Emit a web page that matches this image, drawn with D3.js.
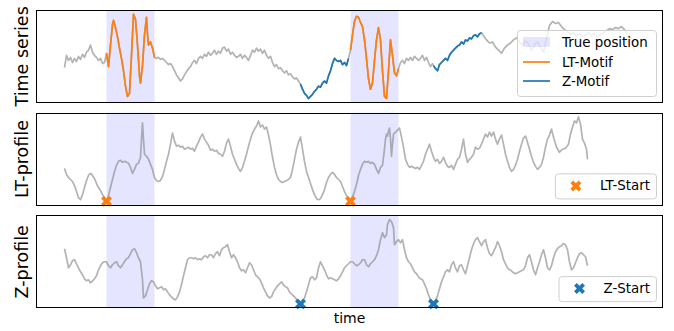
<!DOCTYPE html>
<html>
<head>
<meta charset="utf-8">
<script src="https://cdn.jsdelivr.net/npm/d3@7"></script>
<style>
  body { margin: 0; background: #fff; }
  text { font-family: "DejaVu Sans", sans-serif; }
</style>
</head>
<body>
<svg id="chart" width="674" height="331"></svg>
<script>
// time index of each reading, and the value
var series = [[0,33],[2,45],[4,40],[6,43],[8,38],[10,42],[12,39],[14,44],[16,41],[18,46],[20,43],[22,48],[24,50],[26,55],[28,48],[30,45],[32,43],[34,40],[36,42],[38,37],[40,38],
  [42,47],[44,34],[46,55],[48,75],[49,79],[51,72],[53,63],[55,52],[57,42],[59,30],[61,15],[63,5],[65,8],[67,45],[69,85],[71,80],[73,55],[75,25],[76,18],[78,35],[80,65],[82,82],[83,65],[84,55],[86,58],[88,52],[90,43],
  [92,42],[94,43],[96,41],[98,42],[100,40],[102,38],[104,36],[106,37],[108,34],[110,30],[112,26],[114,23],[116,20],[118,22],[120,26],[122,29],[124,32],[126,34],[128,38],[130,40],[132,37],[134,42],[136,44],[138,42],[140,46],[142,44],[144,48],[146,45],[148,47],[150,50],[152,46],[154,49],[156,47],[158,52],[160,53],[162,49],[164,51],[166,46],[168,48],[170,45],[172,43],[174,44],[176,46],[178,42],[180,45],[182,43],[184,40],[186,45],[188,50],[190,48],[192,52],[194,49],[196,51],[198,47],[200,50],[202,45],[204,42],[206,44],[208,38],[210,34],[212,36],[214,32],[216,33],[218,30],[220,28],[222,30],[224,26],[226,27],[228,24],[230,22],[232,23],[234,20],
  [236,17],[238,12],[240,8],[242,6],[244,3],[246,5],[248,7],[250,10],[252,12],[254,15],[256,14],[258,18],[260,20],[262,18],[264,25],[266,30],[268,37],[270,42],[272,40],[274,39],[276,40],[278,36],[280,38],[282,35],[284,42],
  [286,50],[288,65],[290,78],[292,83],[294,82],[296,77],[298,73],[300,60],[302,42],[304,22],[306,12],[308,18],[310,40],[312,60],[314,72],[316,60],[318,30],[320,5],[322,3],[324,30],[326,60],[328,45],[330,28],[332,25],[334,32],
  [336,38],[338,40],[340,37],[342,42],[344,40],[346,43],[348,40],[350,44],[352,42],[354,40],[356,42],[358,45],[360,40],[362,43],[364,38],[366,34],[368,37],
  [369,35],[371,32],[373,30],[375,36],[377,38],[379,40],[381,42],[383,40],[385,45],[387,48],[389,50],[391,52],[393,54],[395,55],[397,58],[399,56],[401,60],[403,59],[405,62],[407,61],[409,64],[411,65],[413,63],[415,66],[417,67],
  [419,64],[422,60],[425,57],[428,58],[431,53],[434,50],[437,47],[440,52],[443,55],[446,57],[449,60],[452,62],[455,58],[458,55],[461,59],[464,56],[467,50],[470,55],[473,58],[476,53],[479,48],[482,62],[485,74],[488,78],[491,76],[494,77],[497,73],[500,70],[503,68],[506,65],[509,67],[512,64],[515,66],[518,63],[521,65],[524,67],[527,64],[530,66],[533,63],[536,65],[539,67],[542,69],[545,71],[548,70],[551,72],[554,71],[557,73],[560,70],[563,66],[566,62],[568,58],[570,50]];

var ltProfile = [[0,41],[2,35],[4,32],[6,30],[8,28],[10,24],[12,18],[14,12],[16,10],[18,15],[20,22],[22,29],[24,34],[26,36],[28,34],[30,31],[32,26],[34,22],[36,19],[38,15],[40,12],[42,8.5],[44,14],[46,22],[48,30],[50,38],[52,44],[54,48],[56,49],[58,47],[60,48],[62,47],[64,46],[66,42],[68,36],[70,40],[72,45],[74,46],[76,52],[77,70],[78,86],[79,70],[80,55],[82,53],[84,50],[86,45],[88,40],[90,32],[92,29],[94,28],[96,29],[98,33],[100,40],[102,48],[104,55],[106,65],[108,76],[110,68],[112,63],[114,64],[116,62],[118,63],[120,60],[122,61],[124,62],[126,60],[128,61],[130,58],[132,63],[134,67],[136,72],[138,75],[140,70],[142,67],[144,64],[146,59],[148,60],[150,58],[152,59],[154,56],[156,55],[158,53],[160,58],[162,66],[164,70],[166,63],[168,55],[170,50],[172,45],[174,41],[176,38],[178,42],[180,48],[182,55],[184,63],[186,70],[188,76],[190,80],[192,83],[194,88],[196,82],[198,84],[200,80],[202,82],[204,74],[206,64],[208,52],[210,42],[212,35],[214,30],[216,28],[218,27],[220,28],[222,29],[224,30],[226,32],[228,40],[230,50],[232,60],[234,67],[236,72],[238,60],[240,48],[242,38],[244,32],[246,26],[248,20],[250,15],[252,11],[254,10],[256,11],[258,15],[260,20],[262,27],[264,32],[266,35],[268,37],[270,35],[272,32],[274,30],[276,28],[278,23],[280,18],[282,14],[284,11],[286,8.5],[288,13],[290,18],[292,25],[294,34],[296,40],[298,45],[300,48],[302,47],[304,48],[306,46],[308,47],[310,45],[312,40],[314,36],[316,42],[318,44],[320,60],[321,70],[322,75],[323,73],[324,78],[325,81],[326,70],[327,53],[328,65],[329,75],[331,77],[333,79],[335,81],[337,72],[339,62],[341,50],[343,45],[345,42],[347,43],[349,42],[351,41],[353,42],[355,40],[357,44],[359,48],[361,55],[363,60],[365,65],[367,58],[369,52],[371,48],[373,50],[375,46],[377,48],[379,52],[381,47],[383,43],[385,42],[387,44],[389,40],[391,45],[393,50],[395,52],[397,60],[399,70],[401,55],[403,47],[405,50],[407,52],[409,55],[411,62],[413,60],[415,61],[417,65],[419,70],[421,75],[423,72],[425,77],[427,73],[429,77],[431,70],[433,65],[435,70],[437,74],[439,65],[441,55],[443,48],[445,42],[447,38],[449,40],[451,44],[453,50],[455,58],[457,65],[459,71],[461,73],[463,67],[465,60],[467,53],[469,47],[471,43],[473,40],[475,42],[477,45],[479,52],[481,62],[483,70],[485,74],[487,80],[489,72],[492,62],[495,57],[498,60],[501,61],[504,65],[506,75],[508,82],[510,88],[512,86],[514,92],[516,85],[518,70],[520,66],[522,60],[523,50]];

var zProfile = [[0,61],[2,52],[4,42],[6,45],[8,49],[10,50],[12,46],[14,42],[16,38],[18,35],[20,31],[22,29],[24,30],[26,27],[28,29],[30,31],[32,34],[34,40],[36,44],[38,47],[40,48],[42,48],[44,44],[46,42],[48,45],[50,47],[52,48],[54,44],[56,42],[58,45],[60,48],[62,51],[64,52],[66,56],[68,60],[70,61],[72,57],[74,52],[76,48],[78,30],[79,12],[81,14],[83,20],[85,26],[87,29],[89,28],[91,24],[93,21],[95,22],[97,23],[99,20],[101,21],[103,18],[105,15],[107,13],[109,11],[111,10],[113,13],[115,18],[117,25],[119,34],[121,42],[123,50],[125,52],[127,52],[129,51],[131,52],[133,50],[135,51],[137,50],[139,53],[141,54],[143,52],[145,55],[147,55],[149,52],[151,56],[153,58],[155,54],[157,60],[159,62],[161,63],[163,65],[165,58],[167,52],[169,55],[171,52],[173,48],[175,42],[177,39],[179,40],[181,37],[183,42],[185,47],[187,45],[189,40],[191,35],[193,33],[195,31],[197,27],[199,22],[201,18],[203,14],[205,12],[207,13],[209,18],[211,21],[213,24],[215,26],[217,28],[219,25],[221,23],[223,22],[225,18],[227,16],[229,14],[231,12],[233,9],[235,7],[236,6],[238,8],[240,12],[242,18],[244,25],[246,32],[248,33],[250,30],[252,32],[254,42],[256,48],[258,44],[260,40],[262,35],[264,31],[266,32],[268,31],[270,30],[272,29],[274,31],[276,34],[278,38],[280,42],[282,44],[284,46],[286,48],[288,48],[290,46],[292,44],[294,45],[296,47],[298,50],[300,50],[302,45],[304,43],[306,46],[308,48],[310,50],[312,54],[314,60],[316,70],[318,77],[320,72],[322,75],[323,85],[325,90],[327,88],[329,82],[330,65],[332,68],[334,70],[336,67],[338,70],[340,60],[342,52],[344,48],[346,46],[348,42],[350,38],[352,36],[354,33],[356,31],[358,30],[360,26],[362,21],[364,15],[366,10],[368,7],[369,6],[371,9],[373,14],[375,21],[377,28],[379,33],[381,38],[383,40],[385,38],[387,45],[389,48],[391,42],[393,38],[395,44],[397,45],[399,40],[401,36],[403,44],[405,52],[407,60],[409,66],[411,70],[413,72],[415,68],[417,64],[419,68],[421,70],[423,62],[425,56],[427,54],[429,58],[431,62],[433,68],[435,64],[437,58],[439,50],[441,46],[443,42],[445,40],[447,39],[449,37],[451,36],[453,37],[455,38],[457,39],[459,40],[461,44],[463,52],[465,55],[467,48],[469,40],[471,35],[473,42],[475,48],[477,55],[479,60],[481,52],[483,42],[485,40],[487,44],[489,52],[491,58],[493,61],[495,63],[497,64],[499,66],[501,65],[503,60],[505,48],[507,40],[509,42],[511,47],[513,52],[515,56],[517,57],[519,55],[521,53],[523,44]];

var motifLength = 48;
var trueStarts = [42, 286];
var ltStarts = [42, 286];
var zStarts = [236, 369];
var panelLabels = ["Time series", "LT-profile", "Z-profile"];

var gray = "rgba(128,128,128,0.6)", orange = "#ff7f0e", blue = "#1f77b4";
var spanFill = "rgba(0,0,255,0.1)";
var lw = 1.7, markerSize = 75;

var svg = d3.select("#chart");
var left = 36, right = 663, top0 = 10, ph = 92.7, gap = 10;
var n = d3.max(series, d => d[0]);
var x = d3.scaleLinear().domain([-0.05 * n, 1.05 * n]).range([left, right]);

function yScale(data, i) {
  var ext = d3.extent(data, d => d[1]), pad = (ext[1] - ext[0]) * 0.05;
  var t = top0 + i * (ph + gap);
  return d3.scaleLinear().domain([ext[0] - pad, ext[1] + pad]).range([t + ph, t]);
}

var panels = [series, ltProfile, zProfile];
var ys = panels.map(yScale);

panels.forEach(function(data, i) {
  var y = ys[i];
  var t = top0 + i * (ph + gap);
  var g = svg.append("g");
  var clipId = "clip" + i;
  g.append("clipPath").attr("id", clipId).append("rect")
    .attr("x", left).attr("y", t).attr("width", right - left).attr("height", ph);

  // true positions
  g.selectAll(".span").data(trueStarts).enter().append("rect")
    .attr("x", d => x(d)).attr("width", d => x(d + motifLength) - x(d))
    .attr("y", t).attr("height", ph).attr("fill", spanFill);

  var line = d3.line().x(d => x(d[0])).y(d => y(d[1]));
  g.append("path").datum(data).attr("d", line)
    .attr("fill", "none").attr("stroke", gray).attr("stroke-width", lw)
    .attr("stroke-linejoin", "round").attr("clip-path", "url(#" + clipId + ")");

  if (i === 0) {
    [[ltStarts, orange], [zStarts, blue]].forEach(function(p) {
      p[0].forEach(function(s) {
        var seg = data.filter(d => d[0] >= s && d[0] <= s + motifLength);
        g.append("path").datum(seg).attr("d", line)
          .attr("fill", "none").attr("stroke", p[1]).attr("stroke-width", lw)
          .attr("stroke-linejoin", "round");
      });
    });
  } else {
    var starts = i === 1 ? ltStarts : zStarts;
    var col = i === 1 ? orange : blue;
    g.selectAll(".mk").data(starts).enter().append("path")
      .attr("d", d3.symbol(d3.symbolCross).size(markerSize))
      .attr("transform", function(s) {
        var p = data.find(d => d[0] === s);
        return "translate(" + x(s) + "," + y(p[1]) + ") rotate(45)";
      })
      .attr("fill", col);
  }

  g.append("rect").attr("x", left + 0.5).attr("y", Math.round(t) + 0.5)
    .attr("width", right - left - 1).attr("height", Math.round(ph) - 1)
    .attr("fill", "none").attr("stroke", "#000").attr("stroke-width", 1);

  g.append("text").attr("transform", "translate(22," + (t + ph / 2) + ") rotate(-90)")
    .attr("text-anchor", "middle").attr("dominant-baseline", "central")
    .attr("font-size", 17.5).text(panelLabels[i]);
});

// legends
var fs = 13.4;
function legendBox(g, x0, y0, w, h) {
  g.append("rect").attr("x", x0 + 0.5).attr("y", y0 + 0.5).attr("width", w).attr("height", h)
    .attr("rx", 3).attr("fill", "rgba(255,255,255,0.8)").attr("stroke", "#d0d0d0");
}

var lg1 = svg.append("g");
legendBox(lg1, 517, 30, 139, 66);
lg1.append("rect").attr("x", 523).attr("y", 37).attr("width", 27).attr("height", 10).attr("fill", spanFill);
lg1.append("line").attr("x1", 523).attr("x2", 550).attr("y1", 62).attr("y2", 62).attr("stroke", orange).attr("stroke-width", lw);
lg1.append("line").attr("x1", 523).attr("x2", 550).attr("y1", 81).attr("y2", 81).attr("stroke", blue).attr("stroke-width", lw);
[["True position", 42], ["LT-Motif", 62], ["Z-Motif", 81]].forEach(function(r) {
  lg1.append("text").attr("x", 562).attr("y", r[1]).attr("dominant-baseline", "central")
    .attr("font-size", fs).text(r[0]);
});

[["LT-Start", orange, ys[1], 1], ["Z-Start", blue, ys[2], 2]].forEach(function(L) {
  var t = top0 + L[3] * (ph + gap);
  var yc = t + ph - 19.5;
  var g = svg.append("g");
  var txt = g.append("text").attr("x", 650).attr("y", yc).attr("text-anchor", "end")
    .attr("dominant-baseline", "central").attr("font-size", fs).text(L[0]);
  var w = txt.node().getComputedTextLength();
  var ts = 650 - w;
  var box = g.insert("g", "text");
  legendBox(box, ts - 45, yc - 12.5, 656 - (ts - 45), 25);
  g.append("path").attr("d", d3.symbol(d3.symbolCross).size(markerSize))
    .attr("transform", "translate(" + (ts - 24) + "," + yc + ") rotate(45)").attr("fill", L[1]);
});

svg.append("text").attr("x", (left + right) / 2).attr("y", 323).attr("text-anchor", "middle")
  .attr("font-size", 14).text("time");
</script>
</body>
</html>
